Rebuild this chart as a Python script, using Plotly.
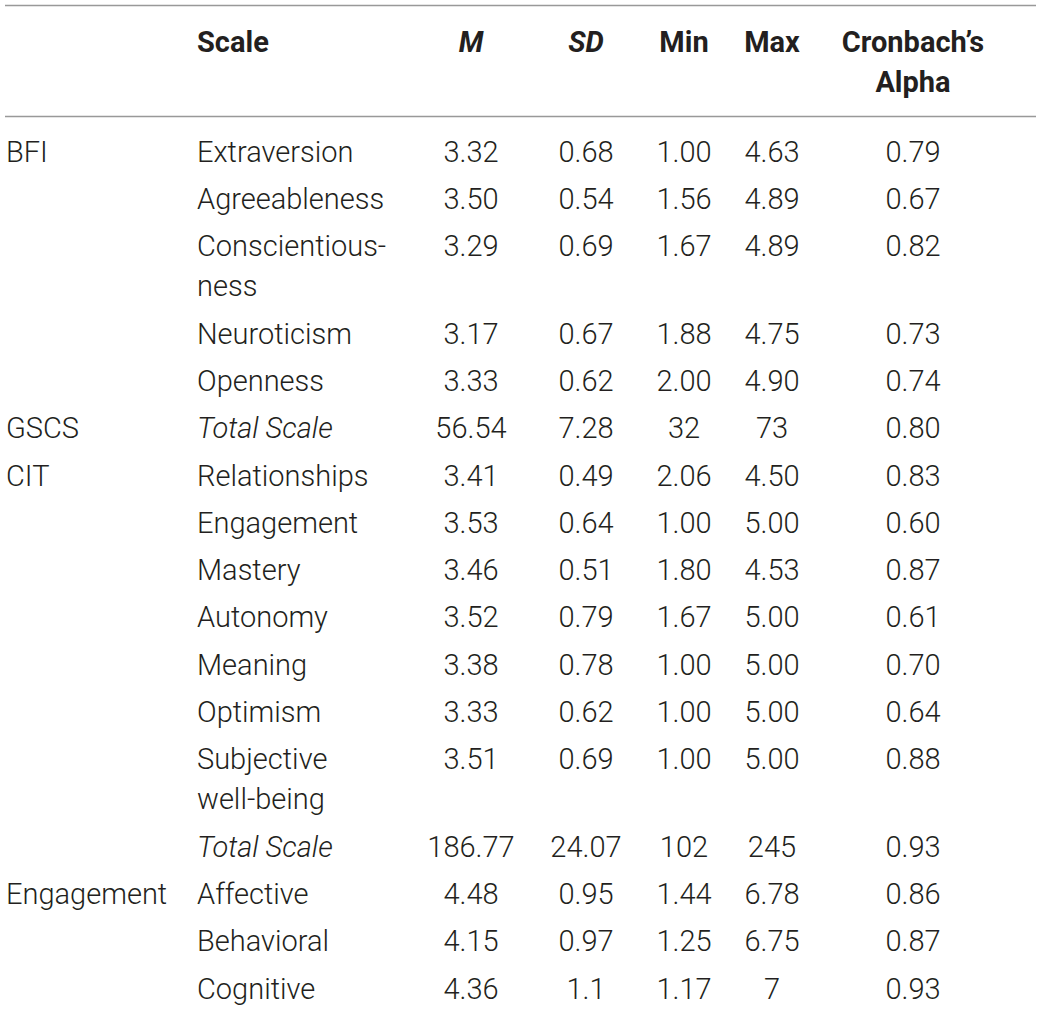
import plotly.graph_objects as go

# ---- data ----
groups = ["BFI", "", "", "", "", "GSCS", "CIT", "", "", "", "", "", "", "", "Engagement", "", ""]
scales = ["Extraversion", "Agreeableness", "Conscientious-\nness", "Neuroticism", "Openness",
          "<i>Total Scale</i>", "Relationships", "Engagement", "Mastery", "Autonomy", "Meaning",
          "Optimism", "Subjective\nwell-being", "<i>Total Scale</i>", "Affective", "Behavioral", "Cognitive"]
M = ["3.32", "3.50", "3.29", "3.17", "3.33", "56.54", "3.41", "3.53", "3.46", "3.52", "3.38",
     "3.33", "3.51", "186.77", "4.48", "4.15", "4.36"]
SD = ["0.68", "0.54", "0.69", "0.67", "0.62", "7.28", "0.49", "0.64", "0.51", "0.79", "0.78",
      "0.62", "0.69", "24.07", "0.95", "0.97", "1.1"]
MIN = ["1.00", "1.56", "1.67", "1.88", "2.00", "32", "2.06", "1.00", "1.80", "1.67", "1.00",
       "1.00", "1.00", "102", "1.44", "1.25", "1.17"]
MAX = ["4.63", "4.89", "4.89", "4.75", "4.90", "73", "4.50", "5.00", "4.53", "5.00", "5.00",
       "5.00", "5.00", "245", "6.78", "6.75", "7"]
ALPHA = ["0.79", "0.67", "0.82", "0.73", "0.74", "0.80", "0.83", "0.60", "0.87", "0.61", "0.70",
         "0.64", "0.88", "0.93", "0.86", "0.87", "0.93"]
headers = ["", "<b>Scale</b>", "<b><i>M</i></b>", "<b><i>SD</i></b>", "<b>Min</b>", "<b>Max</b>",
           "<b>Cronbach\u2019s</b>\n<b>Alpha</b>"]

# ---- layout settings ----
W, H = 1039, 1009
FONT = "Roboto"
FS = 29
COLOR = "#231f20"
col_x = [6, 197, 471, 586, 684, 772, 913]
col_pos = ["middle right", "middle right", "middle center", "middle center",
           "middle center", "middle center", "middle center"]
header_y = 44.5
row_y0 = 154.5
row_step = 47.3
line_gap = 40

columns = [groups, scales, M, SD, MIN, MAX, ALPHA]

# row positions (two-line rows take an extra line)
row_ys = []
y = row_y0
for s in scales:
    row_ys.append(y)
    y += row_step + line_gap * s.count("\n")

fig = go.Figure()
for ci, col in enumerate(columns):
    xs, ys, ts = [], [], []
    for li, part in enumerate(headers[ci].split("\n")):
        if part:
            xs.append(col_x[ci]); ys.append(header_y + li * line_gap); ts.append(part)
    for ri, val in enumerate(col):
        for li, part in enumerate(val.split("\n")):
            if part:
                xs.append(col_x[ci]); ys.append(row_ys[ri] + li * line_gap); ts.append(part)
    fig.add_trace(go.Scatter(
        x=xs, y=ys, text=ts, mode="text", textposition=col_pos[ci],
        textfont=dict(family=FONT, size=FS, color=COLOR, weight=300),
        hoverinfo="skip", showlegend=False, cliponaxis=False,
    ))

for yl in [5.5, 116.5]:
    fig.add_shape(type="line", x0=5, x1=1036, y0=yl, y1=yl, xref="x", yref="y",
                  line=dict(color="#999999", width=1.6))

fig.update_layout(
    width=W, height=H, margin=dict(l=0, r=0, t=0, b=0),
    paper_bgcolor="white", plot_bgcolor="white",
    xaxis=dict(range=[0, W], visible=False, fixedrange=True),
    yaxis=dict(range=[H, 0], visible=False, fixedrange=True),
)
fig.write_html(
    "out.html",
    config={"displayModeBar": False, "staticPlot": True},
    post_script="document.body.style.margin='0';document.body.style.overflow='hidden';",
)
